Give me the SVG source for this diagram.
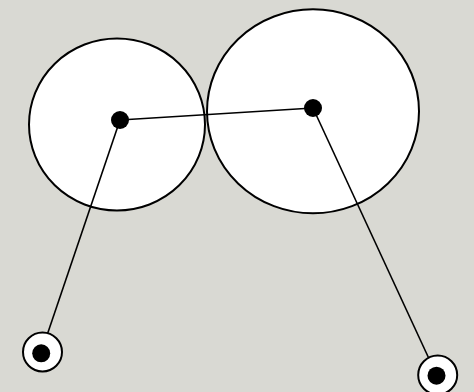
<svg xmlns="http://www.w3.org/2000/svg" width="474" height="392" viewBox="0 0 474 392">
<style>
.big{fill:#fff;stroke:#000;stroke-width:2}
.ring{fill:#fff;stroke:#000;stroke-width:2}
.dot{fill:#000}
.link{stroke:#000;stroke-width:1.6;fill:none}
</style>
<rect width="474" height="392" fill="#d9d9d3"/>
<g id="circle-left"><ellipse class="big" cx="117" cy="124.5" rx="88" ry="86"/></g>
<g id="circle-right"><ellipse class="big" cx="313" cy="111.3" rx="106" ry="102"/></g>
<g id="connectors">
<line class="link" x1="120" y1="120" x2="313" y2="108"/>
<line class="link" x1="120" y1="120" x2="41" y2="353"/>
<line class="link" x1="313" y1="108" x2="437" y2="376"/>
</g>
<g id="center-left"><circle class="dot" cx="120" cy="120" r="9"/></g>
<g id="center-right"><circle class="dot" cx="313" cy="108" r="9"/></g>
<g id="anchor-left"><circle class="ring" cx="42.5" cy="352" r="19.5"/><circle class="dot" cx="41.2" cy="353.3" r="9"/></g>
<g id="anchor-right"><circle class="ring" cx="437.7" cy="375" r="19.5"/><circle class="dot" cx="436.5" cy="375.7" r="9"/></g>
</svg>
